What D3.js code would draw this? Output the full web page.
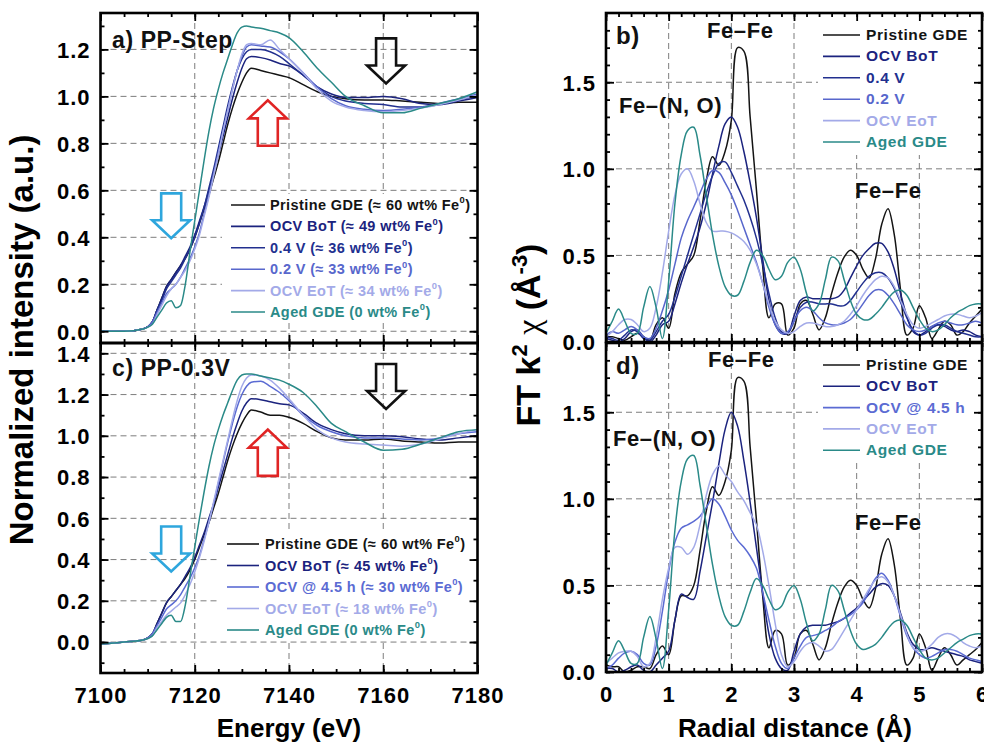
<!DOCTYPE html>
<html lang="en">
<head>
<meta charset="UTF-8">
<title>XANES and FT-EXAFS of Fe GDEs</title>
<script src="https://d3js.org/d3.v7.min.js"></script>
<style>
  body { margin: 0; background: #fff; }
  svg text { font-family: "Liberation Sans", Arial, sans-serif; font-weight: bold; }
  .grid line { stroke: #7d7d7d; stroke-dasharray: 6,4; stroke-width: 1; }
</style>
</head>
<body>
<svg id="chart" width="984" height="745"></svg>
<script>
// ---------- XANES data (panels a, c) ----------
const energy = [7100, 7105, 7109, 7111, 7112, 7113, 7114, 7115, 7116, 7117, 7118, 7119, 7120, 7121, 7122, 7123, 7124, 7125, 7126, 7127,
                7128, 7129, 7130, 7131, 7132, 7134, 7136, 7138, 7140, 7143, 7146, 7149, 7152, 7156, 7160, 7164, 7168, 7172, 7176, 7180];

const aPristine = [0.00, 0.00, 0.01, 0.04, 0.09, 0.14, 0.19, 0.22, 0.25, 0.28, 0.31, 0.35, 0.40, 0.46, 0.52, 0.58, 0.65, 0.72, 0.80, 0.88,
                   0.95, 1.01, 1.06, 1.10, 1.12, 1.11, 1.10, 1.09, 1.08, 1.05, 1.02, 1.00, 0.99, 0.985, 0.985, 0.98, 0.975, 0.97, 0.975, 0.975];
const aBoT      = [0.00, 0.00, 0.01, 0.04, 0.09, 0.14, 0.19, 0.22, 0.25, 0.28, 0.32, 0.36, 0.41, 0.47, 0.53, 0.60, 0.67, 0.75, 0.83, 0.91,
                   0.99, 1.06, 1.12, 1.16, 1.17, 1.165, 1.155, 1.14, 1.13, 1.09, 1.04, 1.01, 0.995, 0.995, 1.00, 0.99, 0.97, 0.965, 0.98, 0.995];
const a04V      = [0.00, 0.00, 0.01, 0.04, 0.09, 0.13, 0.18, 0.21, 0.24, 0.27, 0.31, 0.35, 0.40, 0.46, 0.53, 0.61, 0.69, 0.78, 0.87, 0.96,
                   1.04, 1.11, 1.16, 1.19, 1.20, 1.20, 1.19, 1.17, 1.14, 1.09, 1.04, 1.00, 0.98, 0.97, 0.965, 0.955, 0.955, 0.965, 0.985, 1.00];
const a02V      = [0.00, 0.00, 0.01, 0.04, 0.08, 0.12, 0.16, 0.18, 0.20, 0.23, 0.27, 0.31, 0.36, 0.42, 0.50, 0.58, 0.67, 0.76, 0.85, 0.94,
                   1.03, 1.11, 1.17, 1.21, 1.22, 1.215, 1.21, 1.19, 1.16, 1.10, 1.04, 0.99, 0.96, 0.945, 0.94, 0.945, 0.955, 0.97, 0.99, 1.01];
const aEoT      = [0.00, 0.00, 0.01, 0.03, 0.07, 0.11, 0.15, 0.18, 0.20, 0.23, 0.26, 0.30, 0.35, 0.41, 0.49, 0.57, 0.66, 0.75, 0.85, 0.94,
                   1.03, 1.11, 1.18, 1.22, 1.225, 1.22, 1.24, 1.20, 1.16, 1.10, 1.03, 0.98, 0.955, 0.94, 0.935, 0.94, 0.95, 0.965, 0.985, 1.005];
const aAged     = [0.00, 0.00, 0.01, 0.03, 0.06, 0.09, 0.12, 0.13, 0.10, 0.11, 0.20, 0.34, 0.47, 0.60, 0.73, 0.85, 0.95, 1.03, 1.10, 1.16,
                   1.22, 1.27, 1.295, 1.30, 1.295, 1.29, 1.28, 1.27, 1.25, 1.19, 1.12, 1.06, 1.00, 0.96, 0.93, 0.93, 0.95, 0.97, 0.99, 1.02];

const cPristine = [-0.01, 0.00, 0.01, 0.04, 0.09, 0.14, 0.19, 0.22, 0.25, 0.28, 0.31, 0.35, 0.40, 0.46, 0.52, 0.58, 0.65, 0.72, 0.80, 0.88,
                   0.95, 1.01, 1.06, 1.10, 1.125, 1.115, 1.10, 1.10, 1.09, 1.06, 1.02, 0.99, 0.98, 0.98, 0.985, 0.975, 0.97, 0.965, 0.97, 0.97];
const cBoT      = [-0.01, 0.00, 0.01, 0.04, 0.09, 0.14, 0.19, 0.22, 0.25, 0.28, 0.32, 0.36, 0.41, 0.47, 0.53, 0.60, 0.67, 0.75, 0.83, 0.91,
                   0.99, 1.06, 1.12, 1.16, 1.18, 1.175, 1.165, 1.155, 1.15, 1.11, 1.06, 1.03, 1.01, 1.00, 1.00, 0.995, 0.985, 0.98, 0.99, 1.00];
const c45h      = [-0.01, 0.00, 0.01, 0.04, 0.08, 0.12, 0.16, 0.18, 0.20, 0.23, 0.27, 0.31, 0.36, 0.42, 0.50, 0.58, 0.67, 0.77, 0.87, 0.97,
                   1.06, 1.14, 1.20, 1.24, 1.26, 1.265, 1.24, 1.21, 1.17, 1.10, 1.05, 1.02, 1.00, 0.99, 0.99, 0.985, 0.98, 0.99, 1.01, 1.02];
const cEoT      = [-0.01, 0.00, 0.01, 0.03, 0.07, 0.10, 0.13, 0.15, 0.17, 0.19, 0.23, 0.28, 0.34, 0.41, 0.49, 0.58, 0.68, 0.78, 0.88, 0.98,
                   1.08, 1.17, 1.24, 1.28, 1.295, 1.29, 1.27, 1.23, 1.18, 1.10, 1.03, 0.99, 0.97, 0.96, 0.955, 0.95, 0.96, 0.985, 1.01, 1.03];
const cAged     = [-0.01, 0.00, 0.01, 0.03, 0.06, 0.09, 0.12, 0.13, 0.10, 0.10, 0.18, 0.32, 0.46, 0.60, 0.73, 0.85, 0.95, 1.03, 1.10, 1.16,
                   1.22, 1.27, 1.295, 1.30, 1.30, 1.29, 1.28, 1.27, 1.25, 1.21, 1.14, 1.06, 1.02, 0.97, 0.93, 0.935, 0.96, 0.99, 1.02, 1.03];

// ---------- FT-EXAFS data (panels b, d) ----------
const radial = [0.0, 0.1, 0.2, 0.3, 0.4, 0.5, 0.6, 0.7, 0.8, 0.9, 1.0, 1.1, 1.2, 1.3, 1.4, 1.5, 1.6, 1.7, 1.8, 1.9,
                2.0, 2.1, 2.2, 2.3, 2.4, 2.5, 2.6, 2.7, 2.8, 2.9, 3.0, 3.1, 3.2, 3.3, 3.4, 3.5, 3.6, 3.7, 3.8, 3.9,
                4.0, 4.1, 4.2, 4.3, 4.4, 4.5, 4.6, 4.7, 4.8, 4.9, 5.0, 5.1, 5.2, 5.3, 5.4, 5.5, 5.6, 5.7, 5.8, 5.9, 6.0];

const bPristine = [0.03, 0.03, 0.02, 0.01, 0.03, 0.05, 0.03, 0.01, 0.10, 0.14, 0.08, 0.28, 0.40, 0.45, 0.50, 0.70, 0.93, 1.07, 1.02, 1.10,
                   1.28, 1.70, 1.68, 1.30, 0.88, 0.44, 0.14, 0.22, 0.22, 0.04, 0.08, 0.22, 0.24, 0.16, 0.07, 0.14, 0.28, 0.40, 0.49, 0.53,
                   0.50, 0.42, 0.37, 0.48, 0.68, 0.77, 0.62, 0.30, 0.04, 0.08, 0.21, 0.14, 0.02, 0.07, 0.12, 0.10, 0.04, 0.06, 0.11, 0.15, 0.19];
const bBoT      = [0.02, 0.01, 0.00, 0.02, 0.06, 0.07, 0.03, 0.00, 0.04, 0.10, 0.12, 0.22, 0.34, 0.45, 0.55, 0.66, 0.80, 0.97, 1.13, 1.26,
                   1.30, 1.24, 1.10, 0.92, 0.72, 0.48, 0.24, 0.10, 0.05, 0.05, 0.15, 0.24, 0.26, 0.25, 0.25, 0.25, 0.25, 0.26, 0.30, 0.37,
                   0.44, 0.50, 0.54, 0.57, 0.57, 0.52, 0.42, 0.28, 0.15, 0.06, 0.04, 0.06, 0.09, 0.10, 0.09, 0.07, 0.06, 0.07, 0.06, 0.04, 0.03];
const b04V      = [0.03, 0.02, 0.01, 0.04, 0.07, 0.06, 0.02, 0.01, 0.06, 0.12, 0.16, 0.26, 0.38, 0.50, 0.62, 0.74, 0.86, 0.96, 1.03, 1.04,
                   0.98, 0.90, 0.82, 0.72, 0.60, 0.45, 0.28, 0.14, 0.06, 0.05, 0.12, 0.20, 0.23, 0.23, 0.22, 0.22, 0.22, 0.21, 0.21, 0.24,
                   0.29, 0.34, 0.38, 0.40, 0.40, 0.37, 0.31, 0.23, 0.14, 0.07, 0.04, 0.05, 0.08, 0.10, 0.10, 0.08, 0.06, 0.05, 0.04, 0.03, 0.03];
const b02V      = [0.04, 0.06, 0.05, 0.07, 0.09, 0.07, 0.03, 0.02, 0.08, 0.18, 0.30, 0.45, 0.60, 0.70, 0.78, 0.86, 0.94, 0.99, 0.98, 0.92,
                   0.85, 0.76, 0.66, 0.56, 0.46, 0.34, 0.20, 0.10, 0.05, 0.06, 0.12, 0.18, 0.20, 0.18, 0.14, 0.11, 0.10, 0.10, 0.11, 0.13,
                   0.17, 0.22, 0.27, 0.30, 0.30, 0.27, 0.22, 0.16, 0.10, 0.07, 0.06, 0.07, 0.09, 0.11, 0.12, 0.11, 0.10, 0.10, 0.11, 0.12, 0.11];
const bEoT      = [0.03, 0.06, 0.10, 0.13, 0.13, 0.10, 0.06, 0.08, 0.20, 0.40, 0.64, 0.85, 0.97, 1.00, 0.93, 0.80, 0.69, 0.64, 0.64, 0.64,
                   0.63, 0.61, 0.58, 0.53, 0.45, 0.34, 0.22, 0.12, 0.07, 0.05, 0.06, 0.09, 0.11, 0.11, 0.10, 0.09, 0.09, 0.10, 0.12, 0.16,
                   0.21, 0.27, 0.32, 0.36, 0.38, 0.37, 0.32, 0.24, 0.16, 0.10, 0.08, 0.09, 0.11, 0.13, 0.15, 0.16, 0.16, 0.15, 0.14, 0.15, 0.17];
const bAged     = [0.05, 0.12, 0.19, 0.12, 0.05, 0.05, 0.20, 0.32, 0.20, 0.02, 0.35, 0.80, 1.08, 1.22, 1.24, 1.08, 0.85, 0.62, 0.44, 0.32,
                   0.27, 0.27, 0.35, 0.46, 0.53, 0.50, 0.42, 0.36, 0.38, 0.46, 0.49, 0.42, 0.28, 0.18, 0.22, 0.36, 0.49, 0.47, 0.36, 0.24,
                   0.16, 0.13, 0.13, 0.16, 0.20, 0.25, 0.29, 0.30, 0.27, 0.20, 0.13, 0.08, 0.06, 0.07, 0.10, 0.14, 0.17, 0.19, 0.21, 0.22, 0.22];

const dPristine = [0.04, 0.03, 0.03, 0.00, 0.01, 0.03, 0.03, 0.02, 0.10, 0.15, 0.10, 0.30, 0.44, 0.44, 0.50, 0.70, 0.93, 1.07, 1.02, 1.10,
                   1.28, 1.70, 1.68, 1.30, 0.88, 0.44, 0.14, 0.24, 0.22, 0.04, 0.08, 0.22, 0.24, 0.16, 0.07, 0.14, 0.28, 0.40, 0.49, 0.53,
                   0.50, 0.42, 0.37, 0.48, 0.68, 0.77, 0.62, 0.30, 0.04, 0.08, 0.22, 0.14, 0.01, 0.08, 0.14, 0.10, 0.04, 0.07, 0.10, 0.13, 0.17];
const dBoT      = [0.02, 0.02, 0.00, 0.01, 0.03, 0.04, 0.01, 0.00, 0.04, 0.08, 0.12, 0.30, 0.45, 0.43, 0.42, 0.58, 0.78, 0.98, 1.20, 1.40,
                   1.50, 1.42, 1.22, 0.98, 0.72, 0.46, 0.22, 0.08, 0.02, 0.01, 0.12, 0.22, 0.26, 0.27, 0.27, 0.27, 0.28, 0.29, 0.31, 0.34,
                   0.37, 0.41, 0.45, 0.49, 0.51, 0.50, 0.44, 0.34, 0.23, 0.16, 0.13, 0.13, 0.14, 0.13, 0.12, 0.11, 0.10, 0.09, 0.07, 0.06, 0.05];
const d45h      = [0.02, 0.04, 0.08, 0.11, 0.12, 0.10, 0.05, 0.04, 0.15, 0.35, 0.58, 0.75, 0.83, 0.85, 0.87, 0.90, 0.95, 1.00, 0.97, 0.90,
                   0.82, 0.76, 0.72, 0.67, 0.60, 0.46, 0.30, 0.15, 0.05, 0.02, 0.08, 0.15, 0.20, 0.21, 0.22, 0.24, 0.26, 0.29, 0.31, 0.33,
                   0.36, 0.40, 0.47, 0.54, 0.57, 0.53, 0.44, 0.32, 0.21, 0.14, 0.10, 0.08, 0.09, 0.11, 0.13, 0.13, 0.12, 0.10, 0.08, 0.07, 0.06];
const dEoT      = [0.05, 0.08, 0.11, 0.12, 0.12, 0.09, 0.03, 0.05, 0.20, 0.42, 0.60, 0.72, 0.72, 0.68, 0.72, 0.85, 1.02, 1.14, 1.19, 1.14,
                   1.10, 1.04, 0.99, 0.92, 0.85, 0.70, 0.50, 0.28, 0.10, 0.03, 0.06, 0.12, 0.16, 0.17, 0.15, 0.12, 0.13, 0.18, 0.24, 0.30,
                   0.36, 0.42, 0.48, 0.53, 0.55, 0.52, 0.44, 0.33, 0.22, 0.14, 0.12, 0.13, 0.16, 0.20, 0.22, 0.22, 0.20, 0.17, 0.15, 0.14, 0.15];
const dAged     = [0.04, 0.11, 0.18, 0.12, 0.05, 0.05, 0.20, 0.32, 0.19, 0.02, 0.36, 0.82, 1.10, 1.23, 1.25, 1.08, 0.85, 0.62, 0.44, 0.32,
                   0.27, 0.27, 0.35, 0.46, 0.54, 0.50, 0.42, 0.36, 0.38, 0.46, 0.50, 0.42, 0.28, 0.18, 0.22, 0.36, 0.50, 0.47, 0.36, 0.24,
                   0.16, 0.13, 0.14, 0.16, 0.20, 0.25, 0.29, 0.30, 0.27, 0.20, 0.13, 0.08, 0.07, 0.08, 0.11, 0.14, 0.17, 0.19, 0.21, 0.22, 0.22];

// ---------- labels, colours, ticks ----------
const col = {
  pristine: "#141414", bot: "#1b237e", v04: "#22308f", v02: "#5867cc",
  eot: "#a3aae8", h45: "#5b6bd3", aged: "#2a8a88"
};
const labelsA = ["Pristine GDE (≈ 60 wt% Fe⁰)", "OCV BoT (≈ 49 wt% Fe⁰)", "0.4 V (≈ 36 wt% Fe⁰)",
                 "0.2 V (≈ 33 wt% Fe⁰)", "OCV EoT (≈ 34 wt% Fe⁰)", "Aged GDE (0 wt% Fe⁰)"];
const labelsC = ["Pristine GDE (≈ 60 wt% Fe⁰)", "OCV BoT (≈ 45 wt% Fe⁰)", "OCV @ 4.5 h (≈ 30 wt% Fe⁰)",
                 "OCV EoT (≈ 18 wt% Fe⁰)", "Aged GDE (0 wt% Fe⁰)"];
const labelsB = ["Pristine GDE", "OCV BoT", "0.4 V", "0.2 V", "OCV EoT", "Aged GDE"];
const labelsD = ["Pristine GDE", "OCV BoT", "OCV @ 4.5 h", "OCV EoT", "Aged GDE"];
const colorsABC6 = [col.pristine, col.bot, col.v04, col.v02, col.eot, col.aged];
const colorsCD5 = [col.pristine, col.bot, col.h45, col.eot, col.aged];

const energyTicks = [7100, 7120, 7140, 7160, 7180];
const xanesTicksA = [0.0, 0.2, 0.4, 0.6, 0.8, 1.0, 1.2];
const xanesTicksC = [0.0, 0.2, 0.4, 0.6, 0.8, 1.0, 1.2, 1.4];
const radialTicks = [0, 1, 2, 3, 4, 5, 6];
const ftTicks = [0.0, 0.5, 1.0, 1.5];

const svg = d3.select("#chart");
const fmt1 = d3.format(".1f");

function supText(sel, str, size) {
  const parts = str.split("⁰");
  sel.append("tspan").text(parts[0]);
  if (parts.length > 1) {
    sel.append("tspan").attr("dy", -size * 0.45).attr("font-size", size * 0.65).text("0");
    sel.append("tspan").attr("dy", size * 0.45).text(parts[1]);
  }
}

function drawPanel(p) {
  const g = svg.append("g");
  const x = d3.scaleLinear().domain(p.xDomain).range([p.x0, p.x1]);
  const y = d3.scaleLinear().domain(p.yDomain).range([p.y1, p.y0]);

  // grid
  const grid = g.append("g").attr("class", "grid");
  p.xMajor.filter(v => v > p.xDomain[0] && v < p.xDomain[1]).forEach(v => {
    grid.append("line").attr("x1", x(v)).attr("x2", x(v)).attr("y1", p.y0).attr("y2", p.y1);
  });
  p.yMajor.filter(v => v > p.yDomain[0] && v < p.yDomain[1]).forEach(v => {
    grid.append("line").attr("x1", p.x0).attr("x2", p.x1).attr("y1", y(v)).attr("y2", y(v));
  });

  // legend background hides grid
  g.append("rect").attr("x", p.legend.box[0]).attr("y", p.legend.box[1])
    .attr("width", p.legend.box[2]).attr("height", p.legend.box[3]).attr("fill", "#fff");

  // curves
  const clipId = "clip-" + p.id;
  svg.append("clipPath").attr("id", clipId).append("rect")
    .attr("x", p.x0).attr("y", p.y0).attr("width", p.x1 - p.x0).attr("height", p.y1 - p.y0);
  const line = d3.line().x(d => x(d[0])).y(d => y(d[1])).curve(p.curve);
  const lines = g.append("g").attr("clip-path", `url(#${clipId})`);
  p.series.forEach((s, i) => {
    lines.append("path")
      .datum(p.xs.map((v, k) => [v, s[k]]))
      .attr("d", line).attr("fill", "none")
      .attr("stroke", p.colors[i]).attr("stroke-width", 1.5);
  });

  // ticks (inward on all four sides)
  const tickFont = sel => sel.selectAll("text").attr("font-size", 22).attr("fill", "#000")
    .style("letter-spacing", "1px");
  const clean = sel => { sel.select(".domain").remove(); sel.selectAll("line").attr("stroke-width", 1.8); };
  const xMinor = d3.range(p.xDomain[0], p.xDomain[1] + 1e-9, p.xMinorStep);
  const yMinor = d3.range(Math.ceil(p.yDomain[0] / p.yMinorStep) * p.yMinorStep, p.yDomain[1], p.yMinorStep);

  const bottom = g.append("g").attr("transform", `translate(0,${p.y1})`)
    .call(d3.axisBottom(x).tickValues(p.xMajor).tickSize(-8).tickPadding(14)
      .tickFormat(p.showX ? d3.format("d") : ""));
  clean(bottom); tickFont(bottom);
  g.append("g").attr("transform", `translate(0,${p.y1})`)
    .call(d3.axisBottom(x).tickValues(xMinor).tickSize(-4).tickFormat("")).call(clean);
  g.append("g").attr("transform", `translate(0,${p.y0})`)
    .call(d3.axisTop(x).tickValues(p.xMajor).tickSize(-8).tickFormat("")).call(clean);
  g.append("g").attr("transform", `translate(0,${p.y0})`)
    .call(d3.axisTop(x).tickValues(xMinor).tickSize(-4).tickFormat("")).call(clean);

  const left = g.append("g").attr("transform", `translate(${p.x0},0)`)
    .call(d3.axisLeft(y).tickValues(p.yMajor).tickSize(-8).tickPadding(10).tickFormat(fmt1));
  clean(left); tickFont(left);
  left.selectAll("text").attr("dy", "0.36em");
  g.append("g").attr("transform", `translate(${p.x0},0)`)
    .call(d3.axisLeft(y).tickValues(yMinor).tickSize(-4).tickFormat("")).call(clean);
  g.append("g").attr("transform", `translate(${p.x1},0)`)
    .call(d3.axisRight(y).tickValues(p.yMajor).tickSize(-8).tickFormat("")).call(clean);
  g.append("g").attr("transform", `translate(${p.x1},0)`)
    .call(d3.axisRight(y).tickValues(yMinor).tickSize(-4).tickFormat("")).call(clean);

  // frame
  g.append("rect").attr("x", p.x0).attr("y", p.y0).attr("width", p.x1 - p.x0).attr("height", p.y1 - p.y0)
    .attr("fill", "none").attr("stroke", "#000").attr("stroke-width", 2.6);

  // legend
  const L = p.legend;
  p.labels.forEach((lab, i) => {
    const cy = L.y + i * L.dy;
    g.append("line").attr("x1", L.lx0).attr("x2", L.lx1).attr("y1", cy).attr("y2", cy)
      .attr("stroke", p.colors[i]).attr("stroke-width", 1.6);
    const t = g.append("text").attr("x", L.tx).attr("y", cy + 5).attr("font-size", L.size)
      .attr("fill", p.colors[i]).style("letter-spacing", L.spacing);
    supText(t, lab, L.size);
  });

  // text annotations
  p.notes.forEach(n => {
    g.append("text").attr("x", n[0]).attr("y", n[1]).attr("font-size", n[3] || 22)
      .style("letter-spacing", "0.6px").attr("fill", "#111").text(n[2]);
  });

  // hollow arrows, anchored in data coordinates
  (p.arrows || []).forEach(a => {
    const ax = x(a.x), ys = y(a.from), yt = y(a.to);
    const dir = Math.sign(yt - ys), hb = yt - dir * 18;
    const pts = [[ax - 10, ys], [ax - 10, hb], [ax - 19, hb], [ax, yt], [ax + 19, hb], [ax + 10, hb], [ax + 10, ys]];
    g.append("path").attr("d", "M" + pts.join("L") + "Z")
      .attr("fill", "none").attr("stroke", a.color).attr("stroke-width", 2.6).attr("stroke-linejoin", "miter");
  });
  return {x, y};
}

const xanesCurve = d3.curveMonotoneX;
const ftCurve = d3.curveCatmullRom.alpha(0.5);

drawPanel({
  id: "a", x0: 100.5, x1: 477.5, y0: 13, y1: 343,
  xDomain: [7100, 7180], yDomain: [-0.05, 1.355],
  xMajor: energyTicks, xMinorStep: 5, yMajor: xanesTicksA, yMinorStep: 0.1, showX: false,
  xs: energy, series: [aPristine, aBoT, a04V, a02V, aEoT, aAged], colors: colorsABC6, labels: labelsA,
  curve: xanesCurve,
  legend: {box: [222, 194, 254, 128], lx0: 231, lx1: 265, tx: 270, y: 205, dy: 21.4, size: 14.5, spacing: "0.4px"},
  notes: [[112, 48, "a) PP-Step", 23]],
  arrows: [
    {x: 7160.6, from: 1.247, to: 1.055, color: "#111"},
    {x: 7135.5, from: 0.79, to: 0.983, color: "#e02424"},
    {x: 7115, from: 0.587, to: 0.396, color: "#2ea6dd"}
  ]
});

drawPanel({
  id: "c", x0: 100.5, x1: 477.5, y0: 343, y1: 673,
  xDomain: [7100, 7180], yDomain: [-0.15, 1.45],
  xMajor: energyTicks, xMinorStep: 5, yMajor: xanesTicksC, yMinorStep: 0.1, showX: true,
  xs: energy, series: [cPristine, cBoT, c45h, cEoT, cAged], colors: colorsCD5, labels: labelsC,
  curve: xanesCurve,
  legend: {box: [218, 533, 258, 107], lx0: 227, lx1: 259, tx: 265, y: 544, dy: 21.5, size: 14.5, spacing: "0.4px"},
  notes: [[112, 376, "c) PP-0.3V", 23]],
  arrows: [
    {x: 7160.6, from: 1.348, to: 1.13, color: "#111"},
    {x: 7135.5, from: 0.806, to: 1.03, color: "#e02424"},
    {x: 7115, from: 0.56, to: 0.342, color: "#2ea6dd"}
  ]
});

drawPanel({
  id: "b", x0: 606, x1: 982, y0: 13, y1: 342,
  xDomain: [0, 6], yDomain: [0, 1.9],
  xMajor: radialTicks, xMinorStep: 0.2, yMajor: ftTicks, yMinorStep: 0.1, showX: false,
  xs: radial, series: [bPristine, bBoT, b04V, b02V, bEoT, bAged], colors: colorsABC6, labels: labelsB,
  curve: ftCurve,
  legend: {box: [818, 14, 162, 141], lx0: 823, lx1: 860, tx: 866, y: 35, dy: 21.4, size: 15.5, spacing: "0.6px"},
  notes: [[616, 44, "b)", 24], [707, 38, "Fe–Fe"], [619, 113, "Fe–(N, O)"], [855, 198, "Fe–Fe"]]
});

drawPanel({
  id: "d", x0: 606, x1: 982, y0: 343, y1: 672,
  xDomain: [0, 6], yDomain: [0, 1.9],
  xMajor: radialTicks, xMinorStep: 0.2, yMajor: ftTicks, yMinorStep: 0.1, showX: true,
  xs: radial, series: [dPristine, dBoT, d45h, dEoT, dAged], colors: colorsCD5, labels: labelsD,
  curve: ftCurve,
  legend: {box: [818, 344, 162, 118], lx0: 823, lx1: 860, tx: 866, y: 365, dy: 21.3, size: 15.5, spacing: "0.6px"},
  notes: [[616, 374, "d)", 24], [708, 367, "Fe–Fe"], [613, 446, "Fe–(N, O)"], [855, 530, "Fe–Fe"]]
});

// axis titles
svg.append("text").attr("x", 289).attr("y", 737).attr("text-anchor", "middle")
  .attr("font-size", 26).text("Energy (eV)");
svg.append("text").attr("x", 795).attr("y", 737).attr("text-anchor", "middle")
  .attr("font-size", 26).text("Radial distance (Å)");
svg.append("text").attr("transform", "translate(33,340) rotate(-90)").attr("text-anchor", "middle")
  .attr("font-size", 33).text("Normalized intensity (a.u.)");

const ftTitle = svg.append("text").attr("transform", "translate(540,335) rotate(-90)")
  .attr("text-anchor", "middle").attr("font-size", 34);
ftTitle.append("tspan").text("FT k");
ftTitle.append("tspan").attr("dy", -13).attr("font-size", 22).text("2");
ftTitle.append("tspan").attr("dy", 13).text(" ");
ftTitle.append("tspan").attr("font-family", "Liberation Serif").attr("font-weight", "normal").text("χ");
ftTitle.append("tspan").text(" (Å");
ftTitle.append("tspan").attr("dy", -13).attr("font-size", 22).text("-3");
ftTitle.append("tspan").attr("dy", 13).text(")");
</script>
</body>
</html>
